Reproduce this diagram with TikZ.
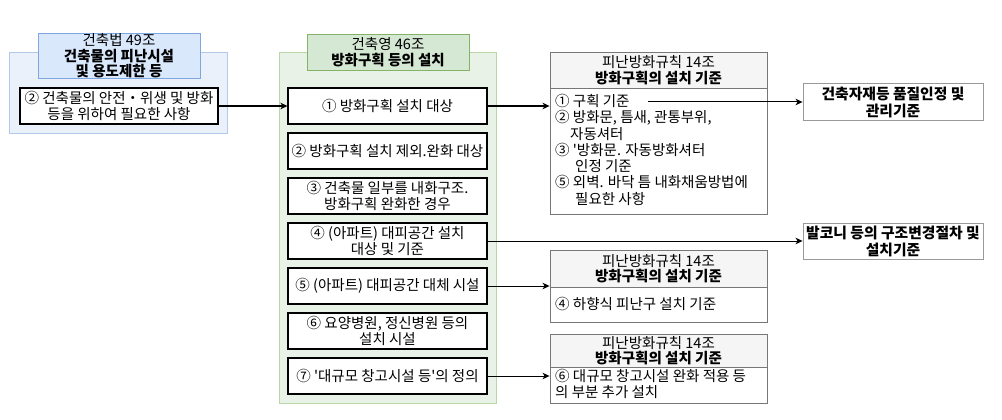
\documentclass[tikz,border=0pt]{standalone}
\usepackage{fontspec}
\setmainfont{Noto Sans CJK KR}[Ligatures=TeXOff]
\usetikzlibrary{arrows.meta}
\definecolor{bluefill}{HTML}{DAE8FC}
\definecolor{blueline}{HTML}{7EA6E0}
\definecolor{bluebg}{HTML}{EAF1FB}
\definecolor{bluebgline}{HTML}{B3C9EA}
\definecolor{greenfill}{HTML}{D5E8D4}
\definecolor{greenline}{HTML}{82B366}
\definecolor{greenbg}{HTML}{E9F2E6}
\definecolor{greenbgline}{HTML}{B9D7A8}
\definecolor{grayfill}{HTML}{F5F5F5}
\definecolor{grayline}{HTML}{777777}
\definecolor{lightline}{HTML}{999999}
\begin{document}
\begin{tikzpicture}[x=1pt,y=-1pt,
  txt/.style={font=\fontsize{14.5}{16}\selectfont},
  hdtxt/.style={font=\fontsize{14.5}{15.5}\selectfont},
  itembox/.style={txt, draw=black, line width=1.1pt, fill=white, minimum width=199pt,
    minimum height=36pt, align=center, inner sep=0pt},
  grp/.style={line width=0.9pt, inner sep=0pt},
  hdr/.style={hdtxt, line width=0.9pt, inner sep=0pt, align=center},
  outbox/.style={draw=grayline, line width=0.9pt, fill=white, minimum width=217pt, inner sep=0pt},
  ghdr/.style={hdtxt, draw=grayline, line width=0.9pt, fill=grayfill, minimum width=217pt,
    inner sep=0pt, align=center},
  bodytxt/.style={font=\fontsize{14.5}{16.3}\selectfont, align=left, inner sep=0pt},
  endbox/.style={draw=lightline, line width=0.9pt, fill=white, minimum width=180pt,
    inner sep=0pt, align=center, font=\fontsize{14.8}{17}\selectfont\bfseries},
  arr/.style={draw=black, line width=1pt, -{Stealth[length=7pt,width=6.5pt,inset=2pt]}}
]
\useasboundingbox (0,0) rectangle (1002,420);

% left group
\node[grp, draw=bluebgline, fill=bluebg, minimum width=218pt, minimum height=81pt] (lgrp) at (118,92.5) {};
\node[hdr, draw=blueline, fill=bluefill, minimum width=162pt, minimum height=44pt] (lhdr) at (119,56)
  {건축법 49조\\\textbf{건축물의 피난시설}\\\textbf{및 용도제한 등}};
\node[itembox, minimum width=198pt] (li) at (119,106)
  {② 건축물의 안전・위생 및 방화\\등을 위하여 필요한 사항};

% middle group
\node[grp, draw=greenbgline, fill=greenbg, minimum width=217pt, minimum height=351pt] (mgrp) at (387.5,227.5) {};
\node[hdr, draw=greenline, fill=greenfill, minimum width=162pt, minimum height=36pt] (mhdr) at (388,52)
  {건축영 46조\\\textbf{방화구획 등의 설치}};
\node[itembox] (m1) at (387.5,106) {① 방화구획 설치 대상};
\node[itembox] (m2) at (387.5,151) {② 방화구획 설치 제외.완화 대상};
\node[itembox] (m3) at (387.5,196) {③ 건축물 일부를 내화구조.\\방화구획 완화한 경우};
\node[itembox] (m4) at (387.5,241) {④ (아파트) 대피공간 설치\\대상 및 기준};
\node[itembox] (m5) at (387.5,286) {⑤ (아파트) 대피공간 대체 시설};
\node[itembox] (m6) at (387.5,331) {⑥ 요양병원, 정신병원 등의\\설치 시설};
\node[itembox] (m7) at (387.5,376) {⑦ '대규모 창고시설 등'의 정의};

% right group 1
\node[outbox, minimum height=162pt] (r1) at (658.5,133) {};
\node[ghdr, minimum height=36pt] (r1h) at (658.5,70) {피난방화규칙 14조\\\textbf{방화구획의 설치 기준}};
\node[bodytxt, anchor=north west] (r1b) at (555,94)
  {① 구획 기준\\
   ② 방화문, 틈새, 관통부위,\\
   \hspace*{15pt}자동셔터\\
   ③ '방화문. 자동방화셔터\\
   \hspace*{20pt}인정 기준\\
   ⑤ 외벽. 바닥 틈 내화채움방법에\\
   \hspace*{20pt}필요한 사항};

% right group 2
\node[outbox, minimum height=72pt] (r2) at (658.5,286) {};
\node[ghdr, minimum height=37pt] (r2h) at (658.5,268.5) {피난방화규칙 14조\\\textbf{방화구획의 설치 기준}};
\node[bodytxt, anchor=west] (r2b) at (555,304) {④ 하향식 피난구 설치 기준};

% right group 3
\node[outbox, minimum height=69pt] (r3) at (658.5,368.5) {};
\node[ghdr, minimum height=33pt] (r3h) at (658.5,350.5) {피난방화규칙 14조\\\textbf{방화구획의 설치 기준}};
\node[bodytxt, anchor=north west] (r3b) at (555,369)
  {⑥ 대규모 창고시설 완화 적용 등\\의 부분 추가 설치};

% far right
\node[endbox, minimum height=37pt] (ea) at (893,102) {건축자재등 품질인정 및\\관리기준};
\node[endbox, minimum height=36pt] (eb) at (893,241) {발코니 등의 구조변경절차 및\\설치기준};

% connectors
\coordinate (c1) at (648,102);
\draw[arr] (li.east) -- (li.east -| m1.west);
\draw[arr] (m1.east) -- (m1.east -| r1.west);
\draw[arr] (c1) -- (c1 -| ea.west);
\draw[arr] (m4.east) -- (m4.east -| eb.west);
\draw[arr] (m5.east) -- (m5.east -| r2.west);
\draw[arr] (m7.east) -- (m7.east -| r3.west);
\end{tikzpicture}
\end{document}
